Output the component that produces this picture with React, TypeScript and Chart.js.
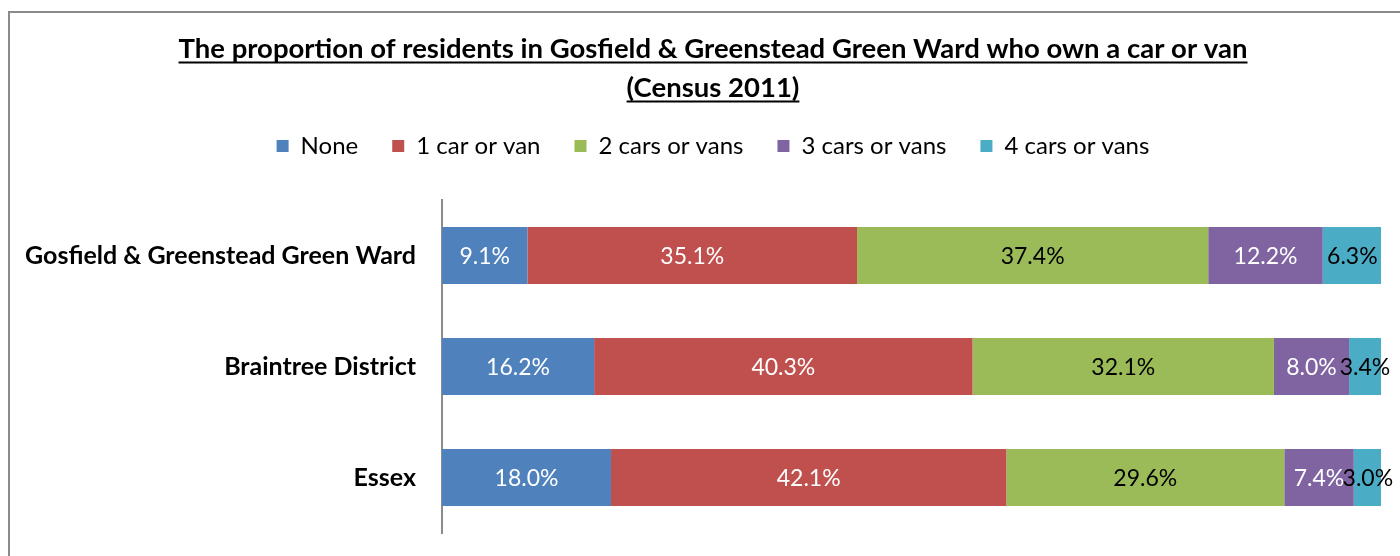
import React, { useEffect, useRef } from "react";
import { Chart, registerables } from "chart.js";

Chart.register(...registerables);

const categories = ["Gosfield & Greenstead Green Ward", "Braintree District", "Essex"];
const seriesNames = ["None", "1 car or van", "2 cars or vans", "3 cars or vans", "4 cars or vans"];
const noneValues = [9.1, 16.2, 18.0];
const oneCarValues = [35.1, 40.3, 42.1];
const twoCarsValues = [37.4, 32.1, 29.6];
const threeCarsValues = [12.2, 8.0, 7.4];
const fourCarsValues = [6.3, 3.4, 3.0];
const titleLines = [
  "The proportion of residents in Gosfield & Greenstead Green Ward who own a car or van",
  "(Census 2011)",
];

const seriesColors = ["#4F81BD", "#C0504D", "#9BBB59", "#8064A2", "#4BACC6"];
const labelColors = ["#ffffff", "#ffffff", "#000000", "#ffffff", "#000000"];
const FONT = "Lato, 'Open Sans', sans-serif";
const TITLE_SIZE = 27.5;
const TITLE_LH = 39;
const TITLE_PAD_TOP = 17;

const underlinePlugin = {
  id: "titleUnderline",
  afterDraw(chart: any) {
    const t = chart.titleBlock;
    if (!t || !t.options.display) return;
    const ctx = chart.ctx;
    ctx.save();
    ctx.font = `bold ${TITLE_SIZE}px ${FONT}`;
    ctx.strokeStyle = "#000";
    ctx.lineWidth = 2;
    const cx = (t.left + t.right) / 2;
    titleLines.forEach((line, i) => {
      const w = ctx.measureText(line).width;
      const y = t.top + TITLE_PAD_TOP + TITLE_LH / 2 + i * TITLE_LH + 13;
      ctx.beginPath();
      ctx.moveTo(cx - w / 2, y);
      ctx.lineTo(cx + w / 2, y);
      ctx.stroke();
    });
    ctx.restore();
  },
};

const dataLabelPlugin = {
  id: "segmentLabels",
  afterDatasetsDraw(chart: any) {
    const ctx = chart.ctx;
    ctx.save();
    ctx.font = `23px ${FONT}`;
    ctx.textAlign = "center";
    ctx.textBaseline = "middle";
    chart.data.datasets.forEach((ds: any, d: number) => {
      const meta = chart.getDatasetMeta(d);
      if (meta.hidden) return;
      meta.data.forEach((bar: any, i: number) => {
        const p = bar.getProps(["x", "base", "y"], true);
        const cx = (p.x + p.base) / 2;
        ctx.fillStyle = labelColors[d];
        ctx.fillText(`${Number(ds.data[i]).toFixed(1)}%`, cx, p.y + 1);
      });
    });
    ctx.restore();
  },
};

export default function App() {
  const canvasRef = useRef<HTMLCanvasElement | null>(null);

  useEffect(() => {
    const canvas = canvasRef.current;
    if (!canvas) return;
    const values = [noneValues, oneCarValues, twoCarsValues, threeCarsValues, fourCarsValues];
    const chart = new Chart(canvas, {
      type: "bar",
      data: {
        labels: categories,
        datasets: seriesNames.map((name, i) => ({
          label: name,
          data: values[i],
          backgroundColor: seriesColors[i],
          borderWidth: 0,
          categoryPercentage: 0.515,
          barPercentage: 1,
        })),
      },
      options: {
        indexAxis: "y",
        responsive: false,
        maintainAspectRatio: false,
        animation: false,
        layout: { padding: 0 },
        plugins: {
          title: {
            display: true,
            text: titleLines,
            color: "#000",
            font: { family: FONT, size: TITLE_SIZE, weight: "bold", lineHeight: TITLE_LH / TITLE_SIZE },
            padding: { top: TITLE_PAD_TOP, bottom: -8 },
          },
          legend: {
            position: "top",
            labels: {
              boxWidth: 12,
              boxHeight: 12,
              padding: 34,
              color: "#000",
              font: { family: FONT, size: 24 },
            },
          },
          tooltip: { enabled: false },
        },
        scales: {
          x: {
            type: "linear",
            stacked: true,
            min: 0,
            max: 100,
            position: "top",
            ticks: { display: false },
            grid: { display: false, drawTicks: false },
            border: { display: false },
            afterFit(s: any) {
              s.height = 32;
            },
          },
          y: {
            type: "category",
            stacked: true,
            grid: { display: false, drawTicks: false },
            border: { display: true, color: "#8c8c8c", width: 2 },
            ticks: {
              color: "#000",
              padding: 26,
              font: { family: FONT, size: 25, weight: "bold" },
            },
            afterFit(s: any) {
              s.width = 432;
            },
          },
          y2: {
            type: "category",
            position: "right",
            grid: { display: false, drawTicks: false },
            border: { display: false },
            ticks: { display: false },
            afterFit(s: any) {
              s.width = 35;
            },
          },
        },
      } as any,
      plugins: [underlinePlugin, dataLabelPlugin],
    });
    return () => chart.destroy();
  }, []);

  return (
    <div
      style={{
        position: "fixed",
        left: 0,
        top: 0,
        width: 1400,
        height: 556,
        overflow: "hidden",
        background: "#fff",
      }}
    >
      <div
        style={{
          position: "absolute",
          left: 8,
          top: 11,
          width: 1410,
          height: 600,
          border: "2px solid #8a8a8a",
          boxSizing: "border-box",
          background: "#fff",
        }}
      >
        <canvas
          ref={canvasRef}
          width={1406}
          height={561}
          style={{ display: "block", width: 1406, height: 561 }}
        />
      </div>
    </div>
  );
}
